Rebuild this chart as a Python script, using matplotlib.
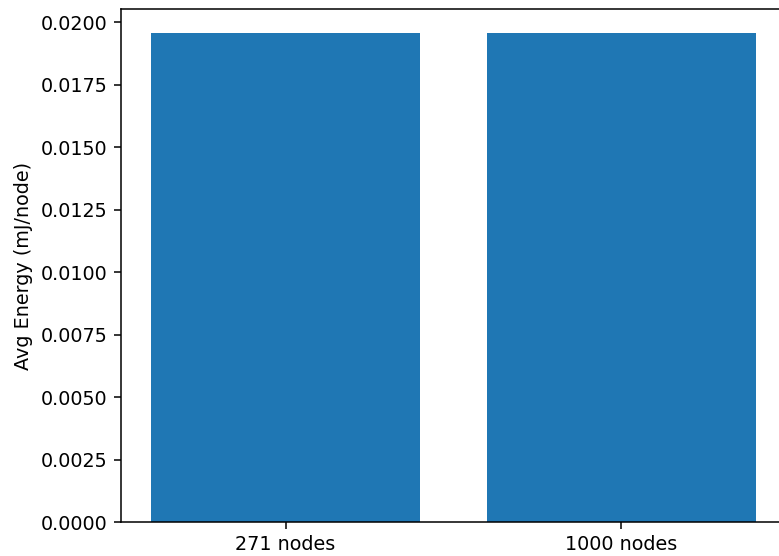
import matplotlib
matplotlib.use("Agg")
import matplotlib.pyplot as plt

# Average energy per node for each network size
labels = ["271 nodes", "1000 nodes"]
avg_energy = [0.01955, 0.01955]

dpi = 138
fig = plt.figure(figsize=(779 / dpi, 556 / dpi), dpi=dpi)
ax = fig.add_axes([121 / 779, 34 / 556, 665 / 779, 513 / 556])

ax.bar(labels, avg_energy, color="#1f77b4")
ax.set_ylabel("Avg Energy (mJ/node)")
ax.yaxis.set_major_formatter(matplotlib.ticker.FormatStrFormatter("%.4f"))

fig.savefig("out.png", dpi=dpi)
